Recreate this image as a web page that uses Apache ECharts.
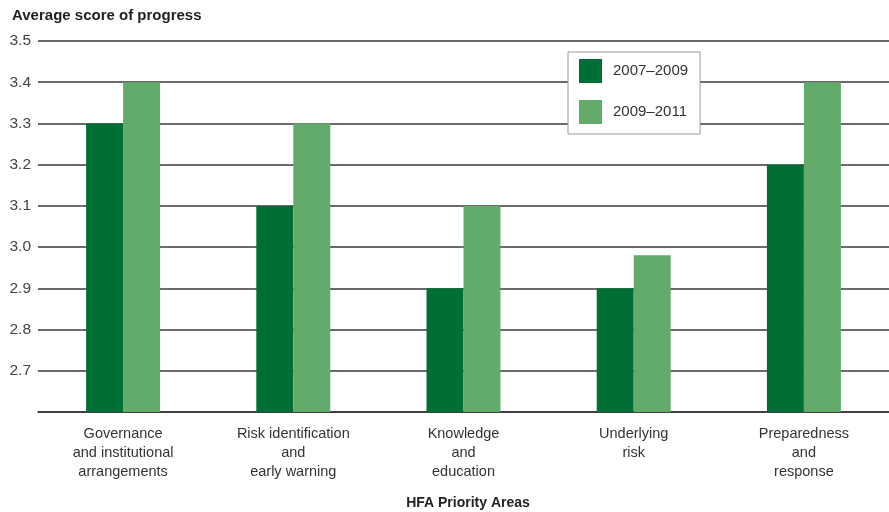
<!DOCTYPE html>
<html>
<head>
<meta charset="utf-8">
<script src="https://cdn.jsdelivr.net/npm/echarts@6/dist/echarts.min.js"></script>
<style>html,body{margin:0;padding:0;background:#fff}#c{width:889px;height:512px}</style>
</head>
<body>
<div id="c"></div>
<script>
const categories = [
  "Governance\nand institutional\narrangements",
  "Risk identification\nand\nearly warning",
  "Knowledge\nand\neducation",
  "Underlying\nrisk",
  "Preparedness\nand\nresponse"
];
const series2007 = [3.3, 3.1, 2.9, 2.9, 3.2];
const series2009 = [3.4, 3.3, 3.1, 2.98, 3.4];
const seriesNames = ["2007\u20132009", "2009\u20132011"];
const yTicks = { min: 2.6, max: 3.5, interval: 0.1 };

const chart = echarts.init(document.getElementById('c'), null, { renderer: 'canvas' });
const font = "'Liberation Sans', Arial, Helvetica, sans-serif";
chart.setOption({
  animation: false,
  backgroundColor: '#ffffff',
  textStyle: { fontFamily: font },
  title: [
    { text: 'Average score of progress', left: 7, top: 3,
      textStyle: { fontSize: 15, fontWeight: 'bold', color: '#222', fontFamily: font } },
    { text: 'HFA Priority Areas', left: 463, top: 491, textAlign: 'center',
      textStyle: { fontSize: 14, fontWeight: 'bold', color: '#222', fontFamily: font } }
  ],
  legend: {
    orient: 'vertical', left: 568, top: 52,
    itemWidth: 23, itemHeight: 24, itemGap: 17,
    icon: 'rect',
    backgroundColor: '#fff', borderColor: '#999', borderWidth: 1,
    padding: [7, 12, 10, 11],
    textStyle: { fontSize: 15, color: '#333', fontFamily: font, padding: [0, 0, 0, 6] },
    data: seriesNames
  },
  grid: { left: 38, right: 0, top: 41, bottom: 100, containLabel: false },
  xAxis: {
    type: 'category', data: categories,
    axisLine: { show: true, lineStyle: { color: '#333', width: 1.5 } },
    axisTick: { show: false },
    axisLabel: { interval: 0, margin: 12, fontSize: 14.5, lineHeight: 19, color: '#333', fontFamily: font }
  },
  yAxis: {
    type: 'value', min: yTicks.min, max: yTicks.max, interval: yTicks.interval,
    axisLine: { show: false }, axisTick: { show: false },
    axisLabel: { fontSize: 15.5, color: '#444', margin: 7, fontFamily: font,
      formatter: v => (Math.abs(v - 2.6) < 1e-6 ? '' : v.toFixed(1)) },
    splitLine: { show: true, lineStyle: { color: '#3a3a3a', width: 1.5 } }
  },
  series: [
    { name: seriesNames[0], type: 'bar', data: series2007, barWidth: 37, barGap: '0%',
      itemStyle: { color: '#006f35' } },
    { name: seriesNames[1], type: 'bar', data: series2009, barWidth: 37, barGap: '0%',
      itemStyle: { color: '#62ab6b' } }
  ]
});
</script>
</body>
</html>
